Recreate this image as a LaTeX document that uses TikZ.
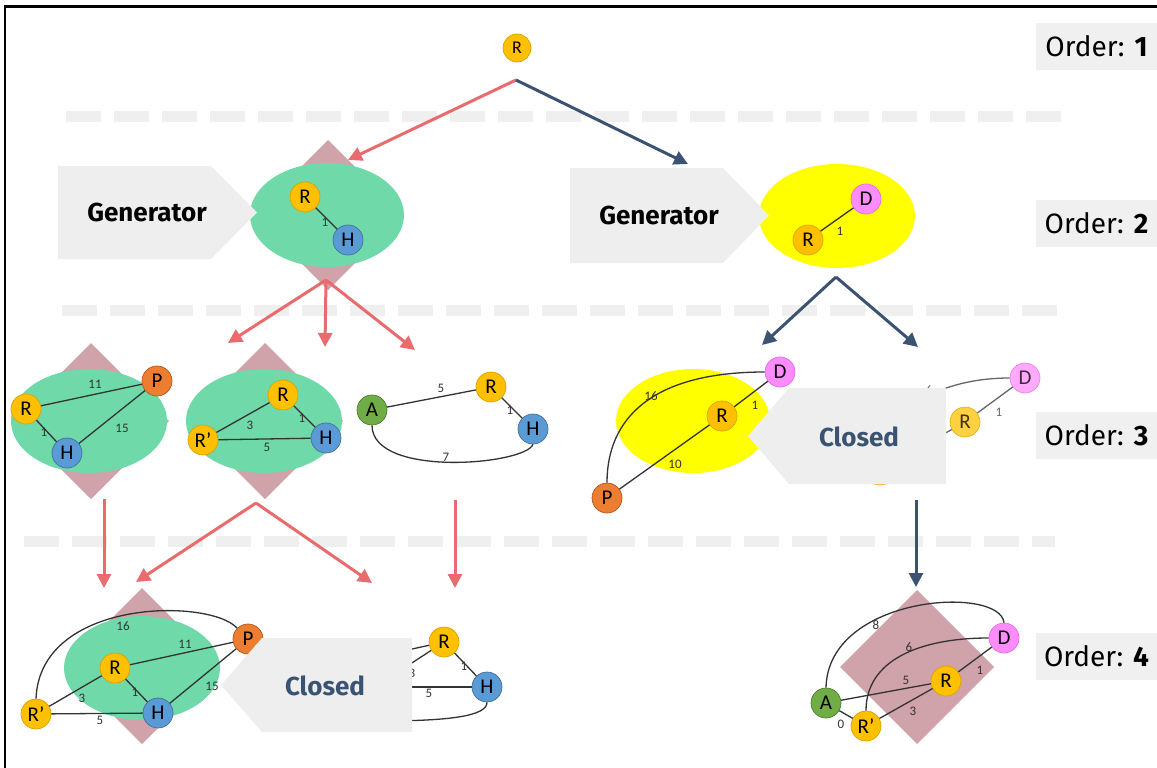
\documentclass[tikz,border=0pt]{standalone}
\usepackage{fontspec}
\setmainfont{Fira Sans}
\newfontfamily\vfont{Carlito}
\usetikzlibrary{arrows.meta}

\definecolor{dashgray}{HTML}{EFEFEF}
\definecolor{boxgray}{HTML}{F0F0F0}
\definecolor{bannergray}{HTML}{EEEEEE}
\definecolor{mint}{HTML}{6FD9A9}
\definecolor{rose}{HTML}{D0A2AA}
\definecolor{hilite}{HTML}{FFFF00}
\definecolor{coral}{HTML}{E96B6D}
\definecolor{navy}{HTML}{3A5372}
\definecolor{rfill}{HTML}{FFC000}
\definecolor{rline}{HTML}{D9A300}
\definecolor{hfill}{HTML}{5B9BD5}
\definecolor{hline}{HTML}{41719C}
\definecolor{pfill}{HTML}{ED7D31}
\definecolor{pline}{HTML}{AE5A21}
\definecolor{afill}{HTML}{70AD47}
\definecolor{aline}{HTML}{507E32}
\definecolor{dfill}{HTML}{FF8CFF}
\definecolor{dline}{HTML}{E070E0}
\definecolor{edgegray}{HTML}{333333}

\tikzset{
  vtx/.style={circle, line width=0.7pt, minimum size=30pt, inner sep=0pt,
    font=\vfont\fontsize{21}{21}\selectfont},
  rv/.style={vtx, fill=rfill, draw=rline},
  hv/.style={vtx, fill=hfill, draw=hline},
  pv/.style={vtx, fill=pfill, draw=pline},
  av/.style={vtx, fill=afill, draw=aline},
  dv/.style={vtx, fill=dfill, draw=dline},
  wt/.style={font=\vfont\fontsize{13}{13}\selectfont, inner sep=0pt, text=edgegray},
  link/.style={line width=1.3pt, draw=edgegray},
  sep/.style={line width=11pt, draw=dashgray, dash pattern=on 35pt off 13pt},
  redarrow/.style={line width=3pt, draw=coral, -{Triangle[length=14pt,width=14pt]}},
  bluearrow/.style={line width=3pt, draw=navy, -{Triangle[length=14pt,width=14pt]}},
  banner/.style={fill=bannergray},
  bannertext/.style={font=\fontsize{26}{26}\selectfont\bfseries},
  orderbox/.style={fill=boxgray, minimum width=121pt, minimum height=47pt,
    inner sep=0pt, font=\fontsize{28}{28}\selectfont},
}

\begin{document}
\begin{tikzpicture}[x=1pt, y=-1pt]
\useasboundingbox (0,0) rectangle (1157,768);

% frame
\draw[line width=2.5pt] (5,768) -- (5,6.5) -- (1157,6.5);

% level separators
\draw[sep] (66,116) -- (1061,116);
\draw[sep] (62,310) -- (1057,310);
\draw[sep] (24,541) -- (1055,541);

% order labels
\node[orderbox] (o1) at (1096.5,46.5) {Order: \textbf{1}};
\node[orderbox] (o2) at (1096.5,223) {Order: \textbf{2}};
\node[orderbox] (o3) at (1096.5,435) {Order: \textbf{3}};
\node[orderbox] (o4) at (1096.5,656.5) {Order: \textbf{4}};

% ---------- order 1 ----------
\node[rv, minimum size=28pt, font=\vfont\fontsize{18}{18}\selectfont] (root) at (517,48) {R};
\coordinate (fork0) at (516,80);
\coordinate (t1) at (348,160);
\coordinate (t2) at (688,164);
\draw[redarrow] (fork0) -- (t1);
\draw[bluearrow] (fork0) -- (t2);

% ---------- order 2, left ----------
\fill[rose] (328,140) -- (403,215) -- (328,290) -- (253,215) -- cycle;
\fill[mint] (327,215) ellipse [x radius=77pt, y radius=52pt];
\node[rv] (ra) at (305,197) {R};
\node[hv] (ha) at (348,240) {H};
\draw[link] (ra) -- (ha);
\node[wt] (wa1) at (325,222) {1};
\fill[banner] (58,166) -- (211,166) -- (257,212.5) -- (211,259) -- (58,259) -- cycle;
\node[bannertext] (gen1) at (147,212.5) {Generator};

% ---------- order 2, right ----------
\fill[hilite] (837,216) ellipse [x radius=78pt, y radius=52pt];
\node[dv] (db) at (866,199) {D};
\node[rv] (rb) at (808,240) {R};
\draw[link] (rb) -- (db);
\node[wt] (wb1) at (840,231) {1};
\fill[banner] (570,168) -- (723,168) -- (769,215.5) -- (723,263) -- (570,263) -- cycle;
\node[bannertext] (gen2) at (659,215.5) {Generator};

% arrows order 2 -> 3
\coordinate (fork1) at (326,280);
\coordinate (t3) at (228,343);
\coordinate (t4) at (325,347);
\coordinate (t5) at (415,350);
\draw[redarrow] (fork1) -- (t3);
\draw[redarrow] (fork1) -- (t4);
\draw[redarrow] (fork1) -- (t5);
\coordinate (fork2) at (836,277);
\coordinate (t6) at (762,345);
\coordinate (t7) at (918,347);
\draw[bluearrow] (fork2) -- (t6);
\draw[bluearrow] (fork2) -- (t7);

% ---------- order 3, graph RPH ----------
\fill[rose] (91,343) -- (169,421) -- (91,499) -- (13,421) -- cycle;
\fill[mint] (89,421) ellipse [x radius=78pt, y radius=52pt];
\node[rv] (rc) at (26,409) {R};
\node[pv] (pc) at (157,381) {P};
\node[hv] (hc) at (67,453) {H};
\draw[link] (rc) -- (pc);
\draw[link] (rc) -- (hc);
\draw[link] (hc) -- (pc);
\node[wt] (wc1) at (95,384) {11};
\node[wt] (wc2) at (44,432) {1};
\node[wt] (wc3) at (122,428) {15};

% ---------- order 3, graph R'RH ----------
\fill[rose] (265,343) -- (343,421) -- (265,499) -- (187,421) -- cycle;
\fill[mint] (264,421) ellipse [x radius=78pt, y radius=52pt];
\node[rv] (rd) at (283,395) {R};
\node[rv] (rpd) at (203,440) {R’};
\node[hv] (hd) at (326,438) {H};
\draw[link] (rpd) -- (rd);
\draw[link] (rpd) -- (hd);
\draw[link] (rd) -- (hd);
\node[wt] (wd1) at (250,425) {3};
\node[wt] (wd2) at (302,418) {1};
\node[wt] (wd3) at (267,447) {5};

% ---------- order 3, graph ARH ----------
\node[av] (ae) at (372,410) {A};
\node[rv] (re) at (491,387) {R};
\node[hv] (he) at (533,429) {H};
\draw[link] (ae) -- (re);
\draw[link] (re) -- (he);
\draw[link] (ae.south) .. controls (372,478) and (525,465) .. (he.south);
\node[wt] (we1) at (441,388) {5};
\node[wt] (we2) at (510,410) {1};
\node[wt] (we3) at (446,457) {7};

% ---------- order 3, graph PRD ----------
\fill[hilite] (693,421) ellipse [x radius=77pt, y radius=52pt];
\node[dv] (df) at (780,372) {D};
\node[rv] (rf) at (722,416) {R};
\node[pv] (pf) at (607,498) {P};
\draw[link] (rf) -- (df);
\draw[link] (rf) -- (pf);
\draw[link] (df.west) .. controls (650,372) and (607,420) .. (pf.north);
\node[wt] (wf1) at (651,396) {16};
\node[wt] (wf2) at (755,405) {1};
\node[wt] (wf3) at (675,464) {10};

% closed candidate behind the banner
\begin{scope}[opacity=0.75]
  \node[dv] (dg) at (1025,378) {D};
  \node[rv] (rg) at (965,422) {R};
  \node[rv] (rpg) at (880,470) {R’};
  \draw[link] (rg) -- (dg);
  \draw[link] (rg) -- (rpg);
  \draw[link] (dg.west) .. controls (940,378) and (886,410) .. (rpg.north);
  \node[wt] (wg1) at (999,412) {1};
  \node[wt] (wg2) at (929,390) {6};
\end{scope}
\fill[banner] (789,388) -- (946,388) -- (946,484) -- (789,484) -- (748,436) -- cycle;
\node[bannertext, text=navy] (cl1) at (859,437) {Closed};

% arrows order 3 -> 4
\coordinate (s1) at (104,499);
\coordinate (t8) at (104,588);
\draw[redarrow] (s1) -- (t8);
\coordinate (fork3) at (256,503);
\coordinate (t9) at (136,582);
\coordinate (t10) at (372,583);
\draw[redarrow] (fork3) -- (t9);
\draw[redarrow] (fork3) -- (t10);
\coordinate (s2) at (455,500);
\coordinate (t11) at (455,588);
\draw[redarrow] (s2) -- (t11);
\coordinate (s3) at (916,500);
\coordinate (t12) at (916,587);
\draw[bluearrow] (s3) -- (t12);

% ---------- order 4, graph R'RHP ----------
\fill[rose] (142,588) -- (220,666) -- (142,744) -- (64,666) -- cycle;
\fill[mint] (142,668) ellipse [x radius=78pt, y radius=52pt];
\node[rv] (rh) at (115,668) {R};
\node[pv] (ph) at (248,639) {P};
\node[hv] (hh) at (158,713) {H};
\node[rv] (rph) at (36,714) {R’};
\draw[link] (rh) -- (ph);
\draw[link] (rh) -- (hh);
\draw[link] (rph) -- (rh);
\draw[link] (rph) -- (hh);
\draw[link] (hh) -- (ph);
\draw[link] (rph.north) .. controls (40,598) and (210,598) .. (ph.north west);
\node[wt] (wh1) at (185,644) {11};
\node[wt] (wh2) at (135,692) {1};
\node[wt] (wh3) at (82,698) {3};
\node[wt] (wh4) at (100,720) {5};
\node[wt] (wh5) at (212,686) {15};
\node[wt] (wh6) at (123,626) {16};

% closed candidate behind the second banner
\node[rv] (ri) at (444,642) {R};
\node[hv] (hi) at (487,687) {H};
\coordinate (ai) at (330,667);
\coordinate (rpi) at (375,687);
\coordinate (ci) at (380,721);
\draw[link] (ai) -- (ri);
\draw[link] (rpi) -- (ri);
\draw[link] (rpi) -- (hi);
\draw[link] (ri) -- (hi);
\draw[link] (hi.south) .. controls (487,716) and (450,721) .. (ci);
\node[wt] (wi1) at (464,666) {1};
\node[wt] (wi2) at (412,673) {3};
\node[wt] (wi3) at (429,693) {5};
\fill[banner] (262,638) -- (412,638) -- (412,732) -- (262,732) -- (221,685) -- cycle;
\node[bannertext, text=navy] (cl2) at (325,686) {Closed};

% ---------- order 4, graph ARR'D ----------
\fill[rose] (917,590) -- (994,667) -- (917,744) -- (840,667) -- cycle;
\node[dv] (dj) at (1004,638) {D};
\node[rv] (rj) at (946,681) {R};
\node[av] (aj) at (826,703) {A};
\node[rv] (rpj) at (866,726) {R’};
\draw[link] (rj) -- (dj);
\draw[link] (aj) -- (rj);
\draw[link] (rpj) -- (rj);
\draw[link] (aj) -- (rpj);
\draw[link] (rpj.north) .. controls (866,660) and (920,638) .. (dj.west);
\draw[link] (aj.north) .. controls (828,595) and (1000,585) .. (dj.north);
\node[wt] (wj1) at (980,670) {1};
\node[wt] (wj2) at (906,680) {5};
\node[wt] (wj3) at (913,711) {3};
\node[wt] (wj4) at (841,724) {0};
\node[wt] (wj5) at (909,647) {6};
\node[wt] (wj6) at (876,625) {8};
\end{tikzpicture}
\end{document}
